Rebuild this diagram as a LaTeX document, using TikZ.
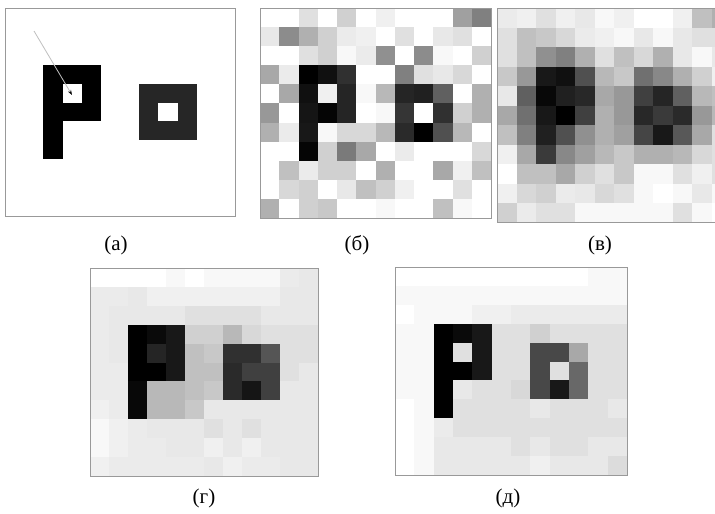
\documentclass[tikz,border=0pt]{standalone}
\usepackage{fontspec}
\setmainfont{Liberation Serif}
\usetikzlibrary{arrows.meta}

% one grey-level image: left, top, cell width, cell height, rows of 0..255
\newcommand{\pixpanel}[5]{%
  \foreach \pixrow [count=\r from 0] in {#5} {
    \foreach \v [count=\c from 0] in \pixrow {
      \pgfmathsetmacro\gv{\v/255}
      \definecolor{pixc}{gray}{\gv}
      \fill[pixc] (#1+\c*#3,#2+\r*#4) rectangle ++(#3+0.4,#4+0.4);
    }
  }
  \draw[panelframe] (#1,#2) rectangle ++(12*#3,11*#4);
}

\tikzset{
  panelframe/.style={draw=black!40, line width=0.8pt},
  sublabel/.style={font=\fontsize{21}{24}\selectfont, inner sep=0pt},
  pointer/.style={draw=black!25, line width=0.8pt, -{Stealth[black,length=5pt,width=3.5pt]}},
}

\begin{document}
\begin{tikzpicture}[x=1pt,y=-1pt]
\useasboundingbox[fill=white] (0,0) rectangle (715,514);

% (a) clean image
\pixpanel{5}{8}{19.17}{18.9}{
  {255,255,255,255,255,255,255,255,255,255,255,255},
  {255,255,255,255,255,255,255,255,255,255,255,255},
  {255,255,255,255,255,255,255,255,255,255,255,255},
  {255,255,0,0,0,255,255,255,255,255,255,255},
  {255,255,0,255,0,255,255,38,38,38,255,255},
  {255,255,0,0,0,255,255,38,255,38,255,255},
  {255,255,0,255,255,255,255,38,38,38,255,255},
  {255,255,0,255,255,255,255,255,255,255,255,255},
  {255,255,255,255,255,255,255,255,255,255,255,255},
  {255,255,255,255,255,255,255,255,255,255,255,255},
  {255,255,255,255,255,255,255,255,255,255,255,255}}
\coordinate (tail) at (34,31);
\coordinate (hole) at (72,95);
\draw[pointer] (tail) -- (hole);

% (b) noisy
\pixpanel{260}{8}{19.25}{19.09}{
  {255,255,224,255,208,255,240,255,255,255,160,128},
  {232,140,176,208,235,240,255,224,255,232,224,255},
  {255,255,224,208,248,235,144,255,140,248,255,208},
  {168,235,0,16,48,255,255,128,224,232,216,255},
  {255,168,16,240,37,248,184,37,32,96,255,176},
  {152,255,21,5,37,255,248,53,255,48,208,176},
  {176,235,24,248,216,216,184,42,0,80,184,255},
  {255,255,5,208,122,168,255,235,255,255,255,216},
  {255,192,235,208,208,255,176,255,255,168,240,192},
  {255,216,208,255,232,192,208,240,255,255,224,255},
  {176,255,208,200,255,255,248,255,255,192,248,255}}

% (c) smoothed, cut at the right edge
\begin{scope}
\clip (490,0) rectangle (715,230);
\pixpanel{497}{8}{19.5}{19.5}{
  {235,240,224,240,232,248,240,255,255,240,192,176},
  {224,192,200,216,235,240,248,232,248,232,224,224},
  {224,192,144,128,176,224,192,216,176,232,248,232},
  {200,152,24,16,80,184,200,112,136,176,208,240},
  {232,96,8,32,40,168,152,64,37,96,184,192},
  {168,112,24,0,64,176,152,40,58,42,152,184},
  {192,128,32,80,144,176,160,69,24,88,168,224},
  {240,168,58,136,160,184,200,176,176,184,216,224},
  {255,192,192,168,208,224,200,248,248,224,240,224},
  {240,216,208,235,232,216,224,248,255,248,232,248},
  {208,235,224,224,248,248,248,248,248,224,248,255}}
\end{scope}

% (d)
\pixpanel{90}{268}{19}{18.9}{
  {255,255,255,255,248,255,248,248,248,248,235,232},
  {235,235,232,240,240,240,240,240,240,240,232,232},
  {235,232,232,232,232,224,224,224,224,232,232,232},
  {235,232,0,10,24,208,208,184,216,224,224,224},
  {235,232,0,37,24,192,200,48,48,85,224,224},
  {235,235,0,0,24,192,192,42,64,64,224,232},
  {235,235,8,184,184,192,200,42,21,64,232,232},
  {240,235,8,184,184,200,232,232,232,232,232,232},
  {248,240,235,232,232,232,224,232,224,232,232,232},
  {248,240,235,235,232,232,240,232,240,232,232,232},
  {240,235,235,235,235,235,232,240,235,235,232,232}}

% (e)
\pixpanel{395}{267}{19.33}{18.9}{
  {255,255,255,255,255,255,255,255,255,255,248,248},
  {248,248,248,248,248,248,248,248,248,248,248,248},
  {255,248,248,248,240,240,235,235,235,235,235,235},
  {248,248,0,10,24,224,224,208,224,224,224,224},
  {248,248,0,224,24,224,224,72,72,168,224,224},
  {248,248,0,0,24,224,224,72,224,104,224,224},
  {248,248,0,232,224,224,216,72,24,104,224,224},
  {255,248,0,224,224,224,224,232,224,224,224,232},
  {255,248,235,224,224,224,224,224,224,224,224,224},
  {255,248,232,232,232,232,224,232,224,224,232,232},
  {255,248,232,232,232,232,232,240,232,232,232,220}}

\node[sublabel] (la) at (116,245) {(а)};
\node[sublabel] (lb) at (357,245) {(б)};
\node[sublabel] (lc) at (600,245) {(в)};
\node[sublabel] (ld) at (204,498) {(г)};
\node[sublabel] (le) at (508,498) {(д)};
\end{tikzpicture}
\end{document}
